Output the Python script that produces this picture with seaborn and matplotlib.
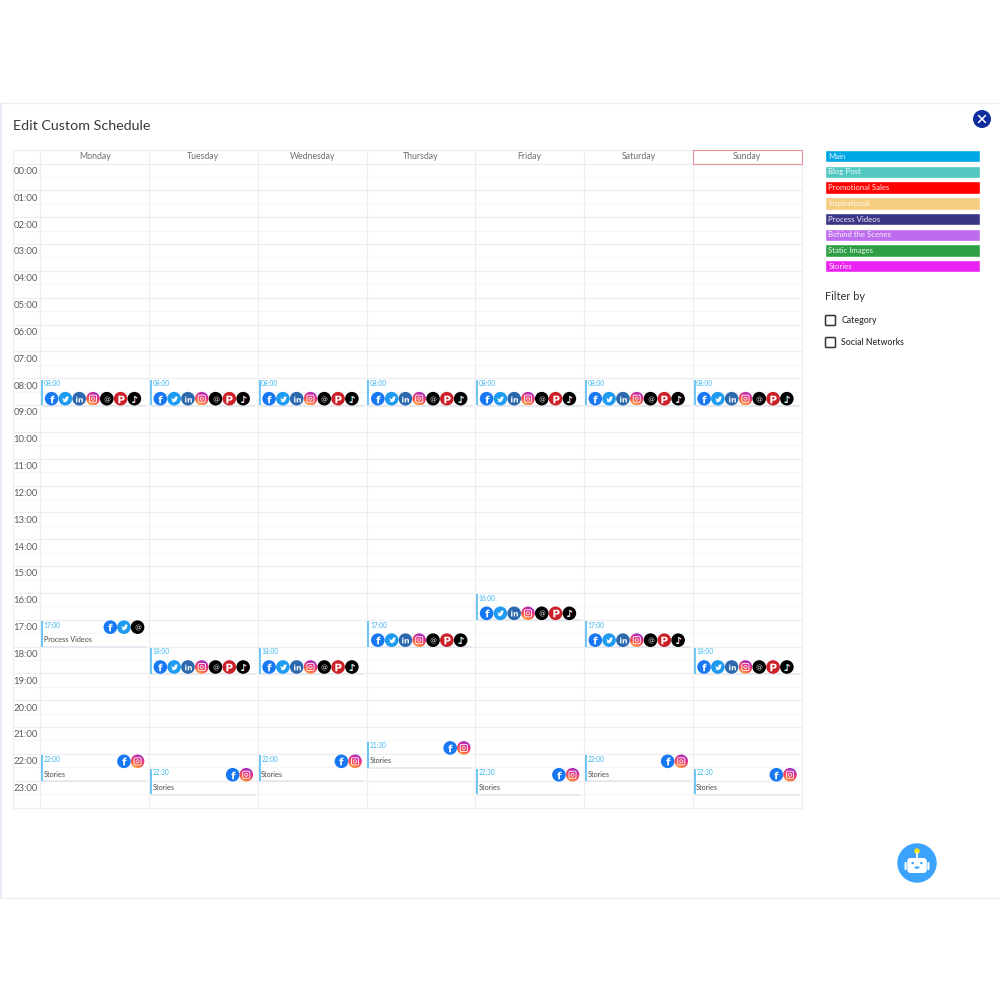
import numpy as np
import pandas as pd
import matplotlib
matplotlib.use("Agg")
import matplotlib.pyplot as plt
from matplotlib.patches import Circle, Ellipse, FancyBboxPatch, Rectangle
from matplotlib.path import Path
from matplotlib.colors import LinearSegmentedColormap
import seaborn as sns

days = ["Monday", "Tuesday", "Wednesday", "Thursday", "Friday", "Saturday", "Sunday"]
hour_labels = [f"{h:02d}:00" for h in range(24)]

ALL = ["facebook", "twitter", "linkedin", "instagram", "threads", "pinterest", "tiktok"]
event_days = [0, 1, 2, 3, 4, 5, 6,
              4, 0, 3, 5, 1, 2, 6,
              0, 1, 2, 3, 4, 5, 6]
event_times = [8.0] * 7 + [16.0, 17.0, 17.0, 17.0, 18.0, 18.0, 18.0] + \
              [22.0, 22.5, 22.0, 21.5, 22.5, 22.0, 22.5]
event_clock = ["08:00"] * 7 + ["16:00", "17:00", "17:00", "17:00", "18:00", "18:00", "18:00"] + \
              ["22:00", "22:30", "22:00", "21:30", "22:30", "22:00", "22:30"]
event_labels = [""] * 7 + ["", "Process Videos", "", "", "", "", ""] + ["Stories"] * 7
event_networks = [ALL] * 7 + [ALL, ["facebook", "twitter", "threads"], ALL, ALL, ALL, ALL, ALL] + \
                 [["facebook", "instagram"]] * 7

categories = ["Main", "Blog Post", "Promotional Sales", "Inspirational",
              "Process Videos", "Behind the Scenes", "Static Images", "Stories"]
category_colors = ["#00a7e6", "#53c8c1", "#ff0000", "#f6cd7e",
                   "#3b3586", "#bd6cf0", "#2e9e45", "#ea22f2"]
filters = ["Category", "Social Networks"]
title = "Edit Custom Schedule"

network_colors = {"facebook": "#1877f2", "twitter": "#1d9bf0", "linkedin": "#2c68ad",
                  "threads": "#000000", "pinterest": "#cb2027", "tiktok": "#000000",
                  "instagram": "#d6249f"}

sns.set_theme(style="white")
plt.rcParams["font.family"] = ["Lato", "DejaVu Sans"]

fig = plt.figure(figsize=(10, 10), dpi=100, facecolor="white")

# page chrome, in pixel units
bg = fig.add_axes([0, 0, 1, 1], zorder=0)
bg.set_xlim(0, 1000)
bg.set_ylim(1000, 0)
bg.axis("off")
bg.hlines([102.5, 897.5], 0, 1000, color="#eeeef6", lw=1)
bg.vlines(0.5, 102.5, 897.5, color="#e6e6f8", lw=1.2)
bg.text(13, 126.3, title, fontsize=10.3, color="#3a3a3a", va="center", ha="left")

# schedule
X0, X1, Y0, Y1 = 40.3, 801.5, 163.5, 807.5
DW = (X1 - X0) / 7
HH = (Y1 - Y0) / 24
ax = fig.add_axes([X0 / 1000, 1 - Y1 / 1000, (X1 - X0) / 1000, (Y1 - Y0) / 1000],
                  zorder=1, facecolor="none")
ax.set_xlim(0, 7)
ax.set_ylim(24, 0)
for s in ax.spines.values():
    s.set_visible(False)

lx = -(X0 - 13.3) / DW
ty = -(Y0 - 150) / HH
GRID = "#eceef2"
ax.hlines(np.arange(0.5, 24, 1), lx, 7, color="#f5f6f8", lw=0.8, clip_on=False, zorder=1)
ax.hlines(np.arange(0, 25, 1), lx, 7, color=GRID, lw=0.9, clip_on=False, zorder=1)
ax.hlines(ty, lx, 7, color=GRID, lw=0.9, clip_on=False, zorder=1)
ax.vlines(np.arange(0, 8), ty, 24, color=GRID, lw=0.9, clip_on=False, zorder=1)
ax.vlines(lx, ty, 24, color=GRID, lw=0.9, clip_on=False, zorder=1)
ax.add_patch(Rectangle((6, ty), 1, -ty, fill=False, ec="#e8939a", lw=0.8, clip_on=False, zorder=2))

ax.xaxis.tick_top()
ax.set_xticks(np.arange(7) + 0.5, days)
ax.set_yticks(np.arange(24) + 0.26, hour_labels)
ax.tick_params(axis="x", length=0, pad=1.8, labelsize=6.3, labelcolor="#6e6e6e")
ax.tick_params(axis="y", length=0, pad=1.8, labelsize=6.8, labelcolor="#5c5c5c")
ax.set_xlabel("")
ax.set_ylabel("")

rows = []
for d, t, clock, lab, nets in zip(event_days, event_times, event_clock, event_labels, event_networks):
    bar_x = d + 1.8 / DW
    ax.vlines(bar_x, t + 1.5 / HH, t + 1 + 0.3 / HH, color="#45b8f0", lw=1.1, zorder=3)
    ax.hlines(t + 1 + 0.6 / HH, d + 2 / DW, d + 1 - 3 / DW, color="#e4e6ef", lw=1.1, zorder=2)
    ax.text(d + 3.4 / DW, t + 5.5 / HH, clock, fontsize=4.7, color="#3db6f0", va="center", ha="left", zorder=5)
    if lab:
        ax.text(d + 3.4 / DW, t + 20.3 / HH, lab, fontsize=5.2, color="#4a4a4a", va="center", ha="left", zorder=5)
    if len(nets) == 7:
        for i, n in enumerate(nets):
            rows.append((d + (11.3 + 13.8 * i) / DW, t + 20.5 / HH, n))
    else:
        for i, n in enumerate(nets):
            rows.append((d + 1 - (11.5 + 13.6 * (len(nets) - 1 - i)) / DW, t + 7.5 / HH, n))
icons = pd.DataFrame(rows, columns=["x", "y", "network"])

plain = icons[icons.network != "instagram"]
sns.scatterplot(data=plain, x="x", y="y", hue="network", palette=network_colors, s=96,
                linewidth=0, legend=False, ax=ax, zorder=4)

ig_cmap = LinearSegmentedColormap.from_list("ig", ["#7a34d6", "#d92c9a", "#fb5a4a", "#fec043"])
row_g = np.linspace(0, 1, 32)
col_g = np.linspace(1, 0, 32)
grad = 0.72 * row_g[:, None] + 0.28 * col_g[None, :]
rx, ry = 6.8 / DW, 6.8 / HH
for _, r in icons[icons.network == "instagram"].iterrows():
    im = ax.imshow(grad, cmap=ig_cmap, extent=(r.x - rx, r.x + rx, r.y + ry, r.y - ry),
                   aspect="auto", zorder=4, origin="upper", interpolation="bilinear")
    el = Ellipse((r.x, r.y), 2 * rx, 2 * ry, transform=ax.transData, fc="none", ec="none")
    ax.add_patch(el)
    im.set_clip_path(el)

# glyphs drawn as markers
bird = Path([(-1, 0.55), (-0.5, 0.2), (-0.75, 0.3), (-0.1, 0.05), (0.05, 0.75), (0.6, 0.9), (1, 0.75),
             (0.8, 0.45), (0.6, -0.3), (-0.1, -0.85), (-1, -0.6), (-0.5, -0.5), (-0.75, -0.15), (-0.8, 0.2), (-1, 0.55)])
a, b = 1.0, 0.65
rounded = Path([(-b, a), (b, a), (a, a), (a, b), (a, -b), (a, -a), (b, -a), (-b, -a), (-a, -a), (-a, -b),
                (-a, b), (-a, a), (-b, a), (-b, a)],
               [Path.MOVETO, Path.LINETO, Path.CURVE3, Path.CURVE3, Path.LINETO, Path.CURVE3, Path.CURVE3,
                Path.LINETO, Path.CURVE3, Path.CURVE3, Path.LINETO, Path.CURVE3, Path.CURVE3, Path.CLOSEPOLY])
glyphs = {"facebook": (r"$\mathbf{f}$", 30, "white"),
          "twitter": (bird, 24, "white"),
          "linkedin": (r"$\mathbf{in}$", 24, "white"),
          "threads": (r"$@$", 18, "#dddddd"),
          "pinterest": (r"$\mathbf{P}$", 30, "white"),
          "tiktok": ("$\u266a$", 26, "white")}
for net, (mk, size, col) in glyphs.items():
    sub = icons[icons.network == net]
    if len(sub):
        if net == "tiktok":
            ax.scatter(sub.x + 0.5 / DW, sub.y, marker=mk, s=size, c="#fe2c55", linewidths=0, zorder=5)
            ax.scatter(sub.x - 0.5 / DW, sub.y, marker=mk, s=size, c="#25f4ee", linewidths=0, zorder=5)
        ax.scatter(sub.x, sub.y, marker=mk, s=size, c=col, linewidths=0, zorder=6)
ig = icons[icons.network == "instagram"]
ax.scatter(ig.x, ig.y, marker=rounded, s=26, facecolors="none", edgecolors="white", linewidths=0.6, zorder=6)
ax.scatter(ig.x, ig.y, marker="o", s=5, facecolors="none", edgecolors="white", linewidths=0.5, zorder=6)
ax.set_xlim(0, 7)
ax.set_ylim(24, 0)
ax.set_xlabel("")
ax.set_ylabel("")

# sidebar
side = fig.add_axes([0, 0, 1, 1], zorder=2, facecolor="none")
side.set_xlim(0, 1000)
side.set_ylim(1000, 0)
side.axis("off")
ypos = 156.2 + 15.72 * np.arange(len(categories))
side.barh(ypos, [155] * len(categories), left=825, height=12.4, color=category_colors)
for y, c in zip(ypos, categories):
    side.text(828.5, y, c, fontsize=5.6, color="white", alpha=0.92, va="center", ha="left")
side.text(825, 296, "Filter by", fontsize=7.9, color="#333333", va="center", ha="left")
for y, f in zip([320.5, 342.5], filters):
    side.add_patch(FancyBboxPatch((825.5, y - 5), 10, 10, boxstyle="round,pad=0,rounding_size=1",
                                  fc="white", ec="#333333", lw=1.1))
    side.text(841.3, y - 0.3, f, fontsize=6.3, color="#2a2a2a", va="center", ha="left", fontweight="medium")
side.add_patch(Circle((982, 119), 9, fc="#0f2d9c", ec="none"))
side.plot([978.5, 985.5], [115.5, 122.5], color="white", lw=1.1, solid_capstyle="round")
side.plot([978.5, 985.5], [122.5, 115.5], color="white", lw=1.1, solid_capstyle="round")

# assistant button
side.add_patch(Circle((917, 863), 19.7, fc="#3ba3fb", ec="none"))
side.add_patch(FancyBboxPatch((904.5, 862), 2.2, 8, boxstyle="round,pad=0,rounding_size=1", fc="white", ec="none"))
side.add_patch(FancyBboxPatch((927.3, 862), 2.2, 8, boxstyle="round,pad=0,rounding_size=1", fc="white", ec="none"))
side.add_patch(FancyBboxPatch((907.3, 858), 19.4, 15, boxstyle="round,pad=0,rounding_size=3", fc="white", ec="none"))
side.plot([917, 917], [853, 858.5], color="white", lw=1.2)
side.add_patch(Circle((917, 851), 2.7, fc="#ffe600", ec="none"))
side.add_patch(Circle((912.7, 863), 1.2, fc="#3ba3fb", ec="none"))
side.add_patch(Circle((921.3, 863), 1.2, fc="#3ba3fb", ec="none"))
side.add_patch(Ellipse((917, 867.6), 5, 2.4, fc="#3ba3fb", ec="none"))

fig.savefig("out.png", dpi=100)
